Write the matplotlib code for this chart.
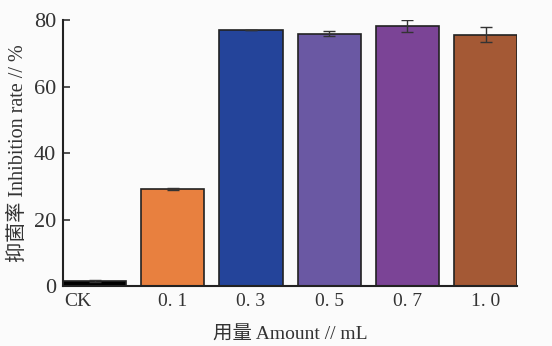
import numpy as np
import matplotlib.pyplot as plt
import matplotlib.transforms as mtransforms

# ==================== 数据 ====================
categories = ['CK', '0. 1', '0. 3', '0. 5', '0. 7', '1. 0']
rates = [1.5, 29.2, 77.0, 75.9, 78.2, 75.6]
errs = [0.3, 0.2, 0.1, 0.8, 1.7, 2.2]
colors = ['#000000', '#E8803F', '#24449A', '#6A58A3', '#7B4496', '#A45935']

plt.rcParams['font.family'] = ['Liberation Serif', 'Noto Sans CJK SC']

fig = plt.figure(figsize=(5.52, 3.46), dpi=100)
fig.patch.set_facecolor('#fbfbfb')
ax = fig.add_axes([0.114, 0.173, 0.823, 0.769])
ax.set_facecolor('#fbfbfb')

x = np.arange(len(categories))
width = 0.81
ax.bar(x, rates, width=width, color=colors, edgecolor='#222222', linewidth=1.2,
       yerr=errs, capsize=4, error_kw=dict(ecolor='#333333', elinewidth=1.0, capthick=1.0),
       zorder=2)

ax.set_xlim(x[0] - width / 2, x[-1] + width / 2)
ax.set_ylim(0, 80)
ax.set_yticks([0, 20, 40, 60, 80])
ax.set_xticks(x)
ax.set_xticklabels(categories)
ax.tick_params(axis='x', length=0, pad=5, labelsize=14, colors='#333333')
ax.tick_params(axis='y', direction='in', length=5, width=1.2, pad=5, labelsize=16, colors='#333333')
# CK 标签略偏左
shift = mtransforms.ScaledTranslation(-0.17, 0, fig.dpi_scale_trans)
lab0 = ax.get_xticklabels()[0]
lab0.set_transform(lab0.get_transform() + shift)
for s in ['top', 'right']:
    ax.spines[s].set_visible(False)
for s in ['left', 'bottom']:
    ax.spines[s].set_linewidth(1.5)
    ax.spines[s].set_color('#222222')

ax.set_ylabel('抑菌率 Inhibition rate // %', fontsize=14.5, color='#333333', labelpad=4)
ax.set_xlabel('用量 Amount // mL', fontsize=14, color='#333333', labelpad=12)

plt.savefig('out.png', dpi=100, facecolor=fig.get_facecolor())
